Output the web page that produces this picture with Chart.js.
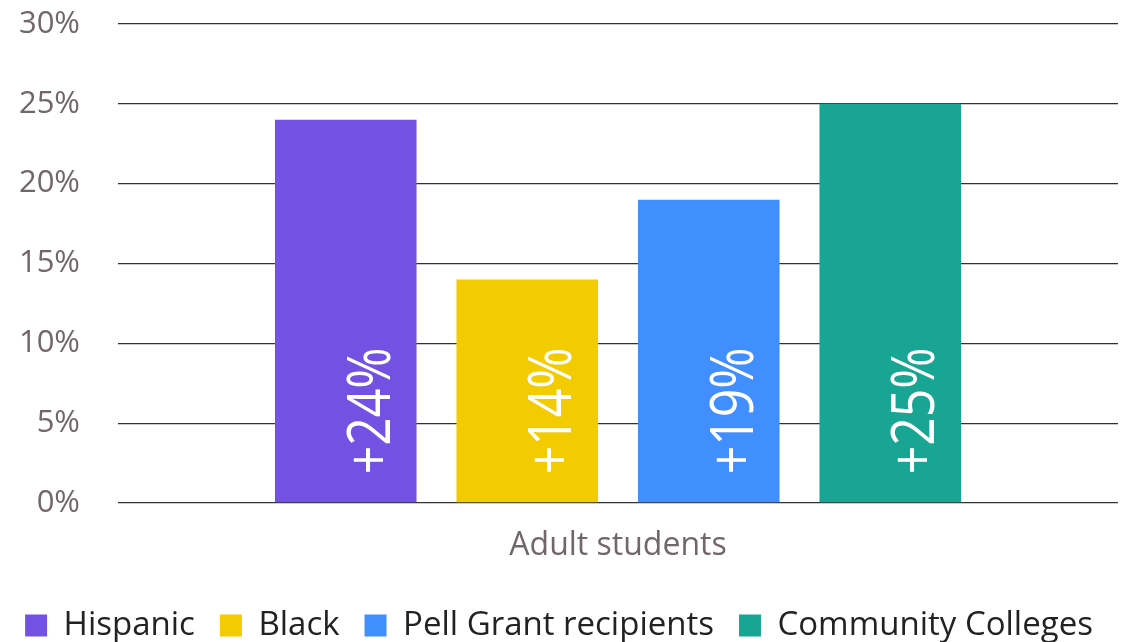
<!DOCTYPE html>
<html>
<head>
<meta charset="utf-8">
<script src="https://cdn.jsdelivr.net/npm/chart.js@4/dist/chart.umd.min.js"></script>
<style>
  html, body { margin: 0; padding: 0; background: #fff; }
  #wrap { width: 1138px; height: 642px; }
</style>
</head>
<body>
<div id="wrap"><canvas id="chart"></canvas></div>
<script>
// data
const categories = ['Adult students'];
const seriesNames = ['Hispanic', 'Black', 'Pell Grant recipients', 'Community Colleges'];
const seriesValues = [24, 14, 19, 25];
const seriesLabels = ['+24%', '+14%', '+19%', '+25%'];
const seriesColors = ['#7352e3', '#f2cb00', '#418eff', '#19a594'];
const yTicks = [0, 5, 10, 15, 20, 25, 30];

const FONT = "'Open Sans', 'Liberation Sans', sans-serif";
const GREY = '#71676a';

// white rotated value labels inside each bar
const barLabels = {
    id: 'barLabels',
    afterDatasetsDraw(chart) {
        const ctx = chart.ctx;
        chart.data.datasets.forEach((ds, i) => {
            const meta = chart.getDatasetMeta(i);
            meta.data.forEach(bar => {
                ctx.save();
                ctx.translate(bar.x + 44, bar.base - 28);
                ctx.rotate(-Math.PI / 2);
                ctx.font = '400 60px ' + FONT;
                ctx.fillStyle = '#ffffff';
                ctx.textAlign = 'left';
                ctx.textBaseline = 'alphabetic';
                const w = ctx.measureText(seriesLabels[i]).width;
                ctx.scale(127 / w, 1);
                ctx.fillText(seriesLabels[i], 0, 0);
                ctx.restore();
            });
        });
    }
};

// push the legend row down towards the bottom edge
const legendShift = {
    id: 'legendShift',
    afterLayout(chart) {
        chart.legend.top += 10;
        chart.legend.bottom += 10;
    }
};

const datasets = seriesNames.map((name, i) => ({
    label: name,
    data: [seriesValues[i]],
    backgroundColor: seriesColors[i],
    borderWidth: 0,
    barPercentage: 0.78,
    categoryPercentage: 0.726
}));

new Chart(document.getElementById('chart'), {
    type: 'bar',
    data: { labels: categories, datasets: datasets },
    plugins: [barLabels, legendShift],
    options: {
        responsive: true,
        maintainAspectRatio: false,
        animation: false,
        layout: { padding: { left: 0, right: 20, top: 24, bottom: 0 } },
        plugins: {
            tooltip: { enabled: false },
            legend: {
                position: 'bottom',
                labels: {
                    boxWidth: 22,
                    boxHeight: 22,
                    padding: 25,
                    color: '#222222',
                    font: { family: FONT, size: 33 }
                }
            }
        },
        scales: {
            x: {
                grid: { display: false },
                border: { display: false },
                afterFit(axis) { axis.height = 71; },
                ticks: {
                    color: GREY,
                    padding: 16,
                    font: { family: FONT, size: 32 }
                }
            },
            y: {
                min: 0,
                max: 30,
                afterBuildTicks(axis) {
                    axis.ticks = yTicks.map(v => ({ value: v }));
                },
                afterFit(axis) {
                    axis.width = 118;
                    axis.paddingTop = 0;
                    axis.paddingBottom = 0;
                },
                grid: { color: '#333333', lineWidth: 1.3, drawTicks: false },
                border: { display: false },
                ticks: {
                    color: GREY,
                    padding: 38,
                    font: { family: FONT, size: 31 },
                    callback: v => v + '%'
                }
            }
        }
    }
});
</script>
</body>
</html>
